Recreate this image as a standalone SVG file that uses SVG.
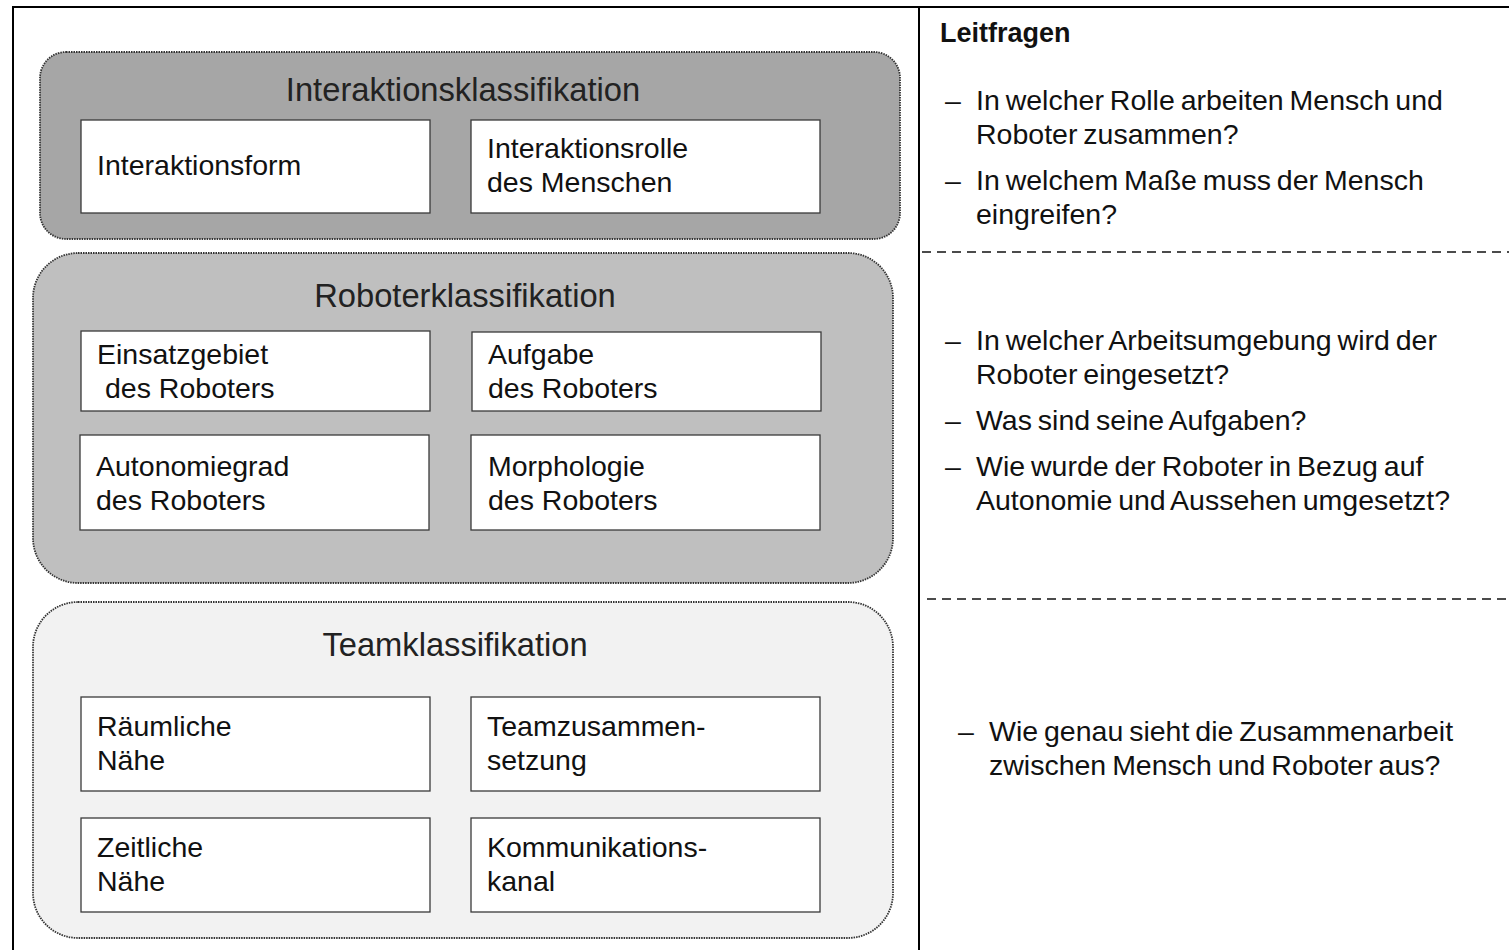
<svg xmlns="http://www.w3.org/2000/svg" width="1509" height="950" viewBox="0 0 1509 950">
<style>
text{font-family:"Liberation Sans",Arial,sans-serif;fill:#111;}
.grp{stroke:#333;stroke-width:1.8;stroke-dasharray:1.5 1;}
.box{fill:#fff;stroke:#3a3a3a;stroke-width:1.3;}
.t{font-size:28.5px;}
.h{font-size:32.7px;text-anchor:middle;fill:#222;}
.q{font-size:28.5px;word-spacing:-2px;}
.dash{stroke:#111;stroke-width:1.6;stroke-dasharray:9 6;fill:none;}
</style>
<rect x="0" y="0" width="1509" height="950" fill="#fff"/>
<rect x="13" y="7" width="1510" height="960" fill="none" stroke="#000" stroke-width="2"/>
<line x1="919" y1="7" x2="919" y2="950" stroke="#000" stroke-width="2"/>

<g id="interaktion">
<rect class="grp" x="40" y="52" width="860" height="187" rx="26" fill="#a6a6a6"/>
<text class="h" x="463" y="101">Interaktionsklassifikation</text>
</g>
<g id="interaktionsform">
<rect class="box" x="81" y="120" width="349" height="93"/>
<text class="t" x="97" y="175">Interaktionsform</text>
</g>
<g id="interaktionsrolle">
<rect class="box" x="471" y="120" width="349" height="93"/>
<text class="t" x="487" y="158">Interaktionsrolle</text>
<text class="t" x="487" y="192">des Menschen</text>
</g>

<g id="roboter">
<rect class="grp" x="33" y="253" width="860" height="330" rx="45" fill="#bfbfbf"/>
<text class="h" x="465" y="307">Roboterklassifikation</text>
</g>
<g id="einsatzgebiet">
<rect class="box" x="81" y="331" width="349" height="80"/>
<text class="t" x="97" y="364">Einsatzgebiet</text>
<text class="t" x="105" y="398">des Roboters</text>
</g>
<g id="aufgabe">
<rect class="box" x="472" y="332" width="349" height="79"/>
<text class="t" x="488" y="364">Aufgabe</text>
<text class="t" x="488" y="398">des Roboters</text>
</g>
<g id="autonomiegrad">
<rect class="box" x="80" y="435" width="349" height="95"/>
<text class="t" x="96" y="476">Autonomiegrad</text>
<text class="t" x="96" y="510">des Roboters</text>
</g>
<g id="morphologie">
<rect class="box" x="471" y="435" width="349" height="95"/>
<text class="t" x="488" y="476">Morphologie</text>
<text class="t" x="488" y="510">des Roboters</text>
</g>

<g id="team">
<rect class="grp" x="33" y="602" width="860" height="336" rx="45" fill="#f2f2f2"/>
<text class="h" x="455" y="656">Teamklassifikation</text>
</g>
<g id="raeumlich">
<rect class="box" x="81" y="697" width="349" height="94"/>
<text class="t" x="97" y="736">Räumliche</text>
<text class="t" x="97" y="770">Nähe</text>
</g>
<g id="teamzusammensetzung">
<rect class="box" x="471" y="697" width="349" height="94"/>
<text class="t" x="487" y="736">Teamzusammen-</text>
<text class="t" x="487" y="770">setzung</text>
</g>
<g id="zeitlich">
<rect class="box" x="81" y="818" width="349" height="94"/>
<text class="t" x="97" y="857">Zeitliche</text>
<text class="t" x="97" y="891">Nähe</text>
</g>
<g id="kommunikation">
<rect class="box" x="471" y="818" width="349" height="94"/>
<text class="t" x="487" y="857">Kommunikations-</text>
<text class="t" x="487" y="891">kanal</text>
</g>

<g id="connectors">
<line class="dash" x1="922" y1="252" x2="1509" y2="252"/>
<line class="dash" x1="927" y1="599" x2="1509" y2="599"/>
</g>

<g id="leitfragen">
<text x="940" y="42" font-size="27" font-weight="bold">Leitfragen</text>
<text class="q" x="945" y="110">–</text>
<text class="q" x="976" y="110">In welcher Rolle arbeiten Mensch und</text>
<text class="q" x="976" y="144">Roboter zusammen?</text>
<text class="q" x="945" y="190">–</text>
<text class="q" x="976" y="190">In welchem Maße muss der Mensch</text>
<text class="q" x="976" y="224">eingreifen?</text>

<text class="q" x="945" y="350">–</text>
<text class="q" x="976" y="350">In welcher Arbeitsumgebung wird der</text>
<text class="q" x="976" y="384">Roboter eingesetzt?</text>
<text class="q" x="945" y="430">–</text>
<text class="q" x="976" y="430">Was sind seine Aufgaben?</text>
<text class="q" x="945" y="476">–</text>
<text class="q" x="976" y="476">Wie wurde der Roboter in Bezug auf</text>
<text class="q" x="976" y="510">Autonomie und Aussehen umgesetzt?</text>

<text class="q" x="958" y="741">–</text>
<text class="q" x="989" y="741">Wie genau sieht die Zusammenarbeit</text>
<text class="q" x="989" y="775">zwischen Mensch und Roboter aus?</text>
</g>
</svg>
